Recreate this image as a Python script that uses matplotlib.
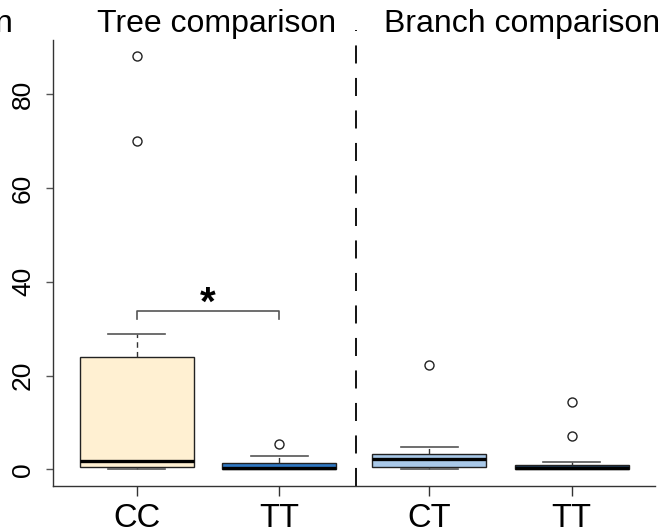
import matplotlib
matplotlib.use("Agg")
import matplotlib.pyplot as plt
import matplotlib.transforms as mtransforms

plt.rcParams['font.family'] = ['Liberation Sans', 'DejaVu Sans']

# group labels and summary statistics per box
labels = ['CC', 'TT', 'CT', 'TT']
positions = [1, 2, 3.05, 4.05]
whislo = [0.05, 0.0, 0.0, 0.0]
q1 = [0.6, 0.0, 0.5, 0.0]
med = [1.8, 0.4, 2.3, 0.3]
q3 = [23.9, 1.3, 3.2, 1.0]
whishi = [28.8, 2.8, 4.8, 1.55]
fliers = [[70.0, 88.1], [5.5], [22.2], [7.1, 14.4]]
fills = ['#FFF0D2', '#2F78C4', '#A9C9E9', '#1F3F5F']

titles = ['Tree comparison', 'Branch comparison']
title_x = [1.556, 3.7]
yticks = [0, 20, 40, 60, 80]

fig = plt.figure(figsize=(6.62, 5.32), dpi=100)
ax = fig.add_axes([53 / 662, 1 - 486 / 532, (655 - 53) / 662, (486 - 40) / 532])

stats = []
for i in range(len(labels)):
    stats.append(dict(med=med[i], q1=q1[i], q3=q3[i], whislo=whislo[i],
                      whishi=whishi[i], fliers=fliers[i], label=labels[i]))

bp = ax.bxp(stats, positions=positions, widths=0.8, patch_artist=True,
            boxprops=dict(edgecolor='#222222', linewidth=1.0),
            medianprops=dict(color='black', linewidth=2.4, solid_capstyle='butt'),
            whiskerprops=dict(color='#333333', linewidth=1.0, linestyle=(0, (4, 3))),
            capprops=dict(color='#555555', linewidth=1.2),
            flierprops=dict(marker='o', markerfacecolor='white',
                            markeredgecolor='#222222', markersize=6.5,
                            markeredgewidth=1.0),
            capwidths=0.4)
for patch, c in zip(bp['boxes'], fills):
    patch.set_facecolor(c)

# separator between the two comparisons
ax.plot([2.535, 2.535], [-3.52, 93.6], color='black', linewidth=1.3,
        linestyle=(0, (10, 8)), clip_on=False)

# significance bracket
ax.plot([1, 1, 2, 2], [32.1, 33.7, 33.7, 32.1], color='#555555', linewidth=1.2)
ax.text(1.5, 33.0, '*', ha='center', va='baseline', fontsize=29,
        fontweight='bold')

ax.set_xlim(0.411, 4.635)
ax.set_ylim(-3.52, 91.52)
ax.set_yticks(yticks)
ax.set_xticks(positions)
ax.set_xticklabels(labels)

for s in ['top', 'right']:
    ax.spines[s].set_visible(False)
for s in ['left', 'bottom']:
    ax.spines[s].set_color('#333333')
    ax.spines[s].set_linewidth(1.0)

ax.tick_params(axis='x', length=7, width=1, color='#333333', pad=5,
               labelsize=23.5)
ax.tick_params(axis='y', length=5, width=1, color='#555555', pad=8,
               labelsize=19)
for lab in ax.get_yticklabels():
    lab.set_rotation(90)
    lab.set_va('center')

trans = mtransforms.blended_transform_factory(ax.transData, ax.transAxes)
for t, x in zip(titles, title_x):
    ax.text(x, 1.018, t, ha='center', va='baseline', fontsize=23,
            transform=trans, clip_on=False)
fig.text(13 / 662, 1 - 32 / 532, 'n', ha='right', va='baseline', fontsize=23)

fig.savefig('out.png', dpi=100)
